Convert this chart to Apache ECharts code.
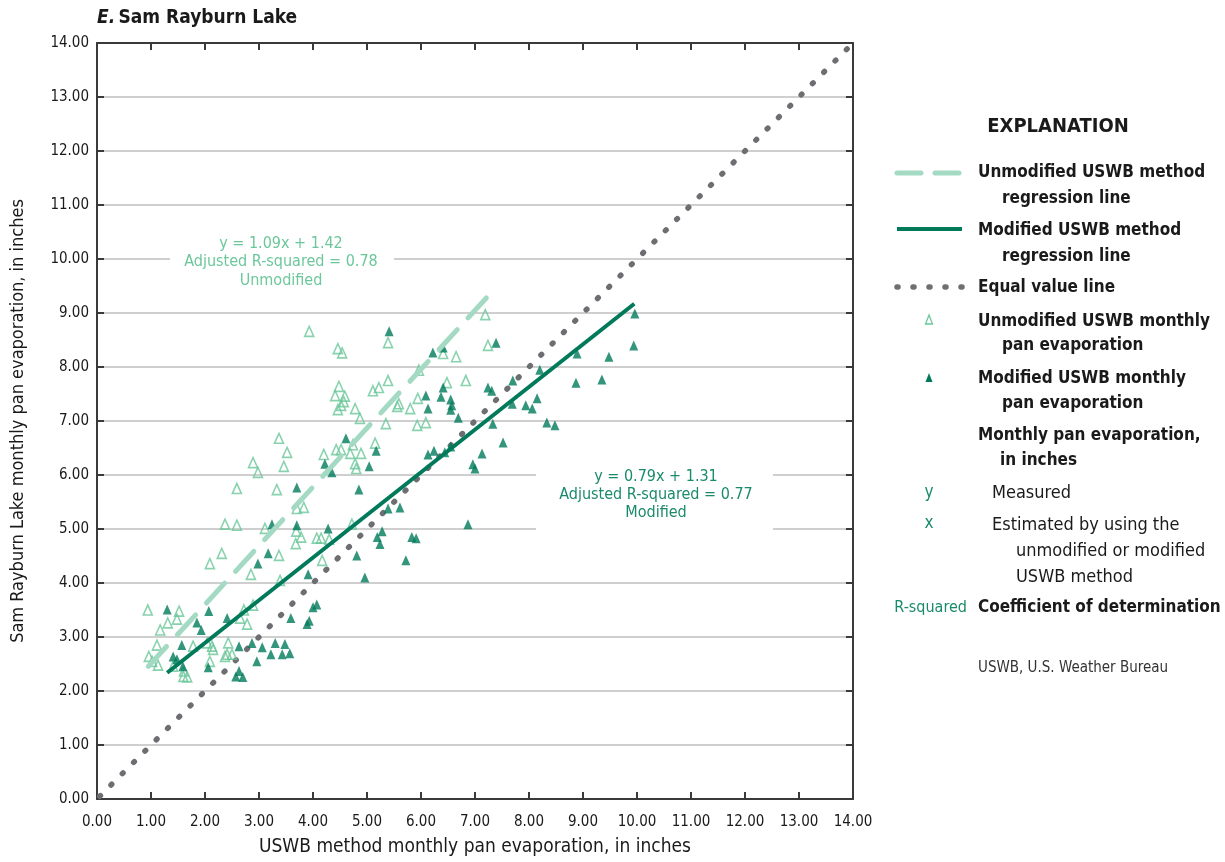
<!DOCTYPE html>
<html><head><meta charset="utf-8">
<script src="https://cdn.jsdelivr.net/npm/echarts@6/dist/echarts.min.js"></script>
<style>html,body{margin:0;padding:0;background:#fff}#c{width:1225px;height:862px}</style>
</head><body><div id="c"></div>
<script>
// Unmodified USWB method: [estimated x, measured y]
const unmodifiedPoints = [
 [2.09,4.36],[2.85,4.16],[3.39,4.05],[0.94,3.50],[1.52,3.48],[1.48,3.33],[1.31,3.26],[1.17,3.13],
 [2.89,3.59],[2.72,3.50],[2.65,3.35],[2.78,3.24],[1.11,2.85],[1.78,2.83],[2.04,2.89],[2.13,2.83],
 [2.15,2.77],[2.43,2.89],[2.41,2.68],[2.50,2.68],[2.37,2.64],[0.96,2.64],[1.02,2.55],[1.13,2.48],
 [1.41,2.46],[2.09,2.55],[1.60,2.27],[1.67,2.26],[1.61,2.37],
 [3.37,6.68],[3.52,6.42],[2.89,6.23],[2.98,6.05],[3.46,6.16],[2.59,5.75],[3.33,5.73],[3.70,5.38],
 [3.83,5.40],[2.37,5.09],[2.59,5.07],[3.11,5.01],[3.69,4.96],[3.78,4.85],[3.68,4.73],[2.31,4.55],[3.37,4.51],
 [3.93,8.66],[4.46,8.34],[4.54,8.26],[5.39,8.45],[4.48,7.64],[4.41,7.47],[4.59,7.46],[4.57,7.36],
 [4.52,7.29],[4.46,7.21],[4.78,7.23],[4.87,7.05],[5.11,7.56],[5.22,7.62],[5.39,7.75],[5.35,6.95],
 [5.59,7.32],[5.56,7.27],[5.80,7.23],[5.94,7.42],[5.96,7.94],[5.93,6.92],[4.74,6.56],[5.15,6.59],
 [4.20,6.38],[4.43,6.47],[4.52,6.47],[4.69,6.40],[4.89,6.40],[4.78,6.21],[4.80,6.12],[4.72,5.09],
 [4.07,4.83],[4.15,4.83],[4.30,4.81],[4.17,4.42],
 [7.19,8.97],[7.24,8.40],[6.41,8.25],[6.65,8.19],[6.48,7.71],[6.83,7.75],[6.09,6.97]
];
// Modified USWB method: [estimated x, measured y]
const modifiedPoints = [
 [2.98,4.36],[1.30,3.51],[2.07,3.48],[1.85,3.27],[1.93,3.13],[2.41,3.35],[3.59,3.35],[3.89,3.24],
 [1.57,2.85],[2.63,2.83],[2.87,2.89],[3.06,2.81],[3.30,2.89],[3.48,2.87],[3.22,2.68],[3.43,2.68],
 [3.57,2.70],[2.96,2.55],[1.41,2.64],[1.48,2.59],[1.59,2.46],[2.06,2.44],[2.63,2.37],[2.57,2.27],[2.70,2.26],
 [3.70,5.77],[3.24,5.09],[3.70,5.07],[3.17,4.55],
 [5.41,8.66],[4.61,6.68],[5.17,6.45],
 [4.22,6.21],[4.35,6.05],[5.04,6.16],[6.13,6.38],[6.24,6.45],[6.44,6.42],[6.55,6.53],[7.13,6.40],
 [7.52,6.60],[6.96,6.20],[7.00,6.12],[4.85,5.73],[5.39,5.38],[5.61,5.40],[6.87,5.09],[4.28,5.01],
 [5.28,4.96],[5.19,4.85],[5.24,4.72],[5.83,4.85],[5.91,4.83],[4.81,4.51],[5.72,4.42],[3.91,4.16],[4.96,4.10],
 [6.22,8.27],[6.41,8.36],[7.39,8.45],[6.41,7.62],[6.37,7.45],[6.09,7.47],[6.55,7.40],[6.57,7.29],
 [6.13,7.23],[6.55,7.21],[6.69,7.06],[7.24,7.62],[7.31,7.56],[7.70,7.75],[8.20,7.95],[8.15,7.42],
 [7.94,7.29],[8.06,7.23],[7.69,7.32],[7.33,6.95],[8.33,6.97],[8.48,6.92],[8.87,7.71],[8.89,8.25],
 [9.96,8.99],[9.94,8.40],[9.48,8.19],[9.35,7.77],
 [3.93,3.30],[4.00,3.55],[4.07,3.60]
];
// Regression lines: slope, intercept, x range
const unmodifiedFit = {slope:1.09, intercept:1.42, xFrom:0.95, xTo:7.25};
const modifiedFit = {slope:0.79, intercept:1.31, xFrom:1.30, xTo:9.95};
const equalLine = [[0.05,0.05],[14,14]];
const axisMin = 0, axisMax = 14, axisStep = 1;

const FONT = '"Liberation Sans Narrow","DejaVu Sans Condensed","Roboto Condensed",Roboto,sans-serif';
const C_UN = '#6cc79a', C_UN_LINE = '#a4dac3', C_MOD = '#007a5a', C_MOD_TXT = '#1b8a6b', C_EQ = '#6d6e71';

function fitLine(f){ return [[f.xFrom, f.slope*f.xFrom+f.intercept],[f.xTo, f.slope*f.xTo+f.intercept]]; }

const chart = echarts.init(document.getElementById('c'), null, {renderer:'canvas'});
const axisCommon = {
  min:axisMin, max:axisMax, interval:axisStep,
  axisLine:{show:true, onZero:false, lineStyle:{color:'#3a3a3a', width:2}},
  axisTick:{show:true, inside:true, length:7, lineStyle:{color:'#3a3a3a', width:2}},
  splitLine:{show:false}
};
const lx = 897, tx = 978;
const legendText = (x,y,t,bold,size,color)=>({type:'text', x:x, y:y, style:{text:t, font:(bold?'bold ':'')+(size||(bold?17:18))+'px '+FONT, fill:color||'#1a1a1a', textVerticalAlign:'middle'}});
const option = {
  animation:false,
  grid:{left:97, right:372, top:43, bottom:62},
  xAxis:[
    Object.assign({}, axisCommon, {type:'value', position:'bottom',
      name:'USWB method monthly pan evaporation, in inches', nameLocation:'middle', nameGap:39,
      nameTextStyle:{fontFamily:FONT, fontSize:19, color:'#1a1a1a'},
      axisLabel:{formatter:v=>v.toFixed(2), fontFamily:FONT, fontSize:15, color:'#1a1a1a', margin:16}}),
    Object.assign({}, axisCommon, {type:'value', position:'top', axisLabel:{show:false}})
  ],
  yAxis:[
    Object.assign({}, axisCommon, {type:'value', position:'left',
      name:'Sam Rayburn Lake monthly pan evaporation, in inches', nameLocation:'middle', nameGap:70,
      nameTextStyle:{fontFamily:FONT, fontSize:18, color:'#1a1a1a'},
      splitLine:{show:true, lineStyle:{color:'#bfbfbf', width:1.5}},
      axisLabel:{formatter:v=>v.toFixed(2), fontFamily:FONT, fontSize:15, color:'#1a1a1a', margin:8}}),
    Object.assign({}, axisCommon, {type:'value', position:'right', axisLabel:{show:false}})
  ],
  series:[
    {type:'line', data:equalLine, showSymbol:false, symbol:'none', z:3,
     lineStyle:{color:C_EQ, width:5.5, type:[1,15], cap:'round'}},
    {type:'scatter', data:unmodifiedPoints, symbol:'triangle', symbolSize:[9,10], z:4,
     itemStyle:{color:'rgba(255,255,255,0)', borderColor:C_UN, borderWidth:1.6}},
    {type:'scatter', data:modifiedPoints, symbol:'triangle', symbolSize:[9,10], z:5,
     itemStyle:{color:C_MOD}},
    {type:'line', data:fitLine(unmodifiedFit), showSymbol:false, symbol:'none', z:6,
     lineStyle:{color:C_UN_LINE, width:5, type:[27,16], cap:'round'}},
    {type:'line', data:fitLine(modifiedFit), showSymbol:false, symbol:'none', z:7,
     lineStyle:{color:C_MOD, width:4}}
  ],
  graphic:[
    {type:'text', x:97, y:18, style:{rich:{i:{font:'italic bold 19px '+FONT, fill:'#1a1a1a'}, b:{font:'bold 19px '+FONT, fill:'#1a1a1a'}}, text:'{i|E.} {b|Sam Rayburn Lake}', textVerticalAlign:'middle'}},
    // annotation boxes
    {type:'rect', z:2, shape:{x:170, y:237, width:224, height:52}, style:{fill:'#fff'}},
    {type:'text', z:3, x:281, y:262, style:{text:'y = 1.09x + 1.42\nAdjusted R-squared = 0.78\nUnmodified', font:'16px '+FONT, fill:C_UN, textAlign:'center', textVerticalAlign:'middle', lineHeight:18.5}},
    {type:'rect', z:2, shape:{x:536, y:467, width:237, height:68}, style:{fill:'#fff'}},
    {type:'text', z:3, x:656, y:495, style:{text:'y = 0.79x + 1.31\nAdjusted R-squared = 0.77\nModified', font:'16px '+FONT, fill:C_MOD_TXT, textAlign:'center', textVerticalAlign:'middle', lineHeight:18}},
    // explanation
    {type:'text', x:1058, y:127, style:{text:'EXPLANATION', font:'bold 20px '+FONT, fill:'#1a1a1a', textAlign:'center', textVerticalAlign:'middle'}},
    {type:'line', shape:{x1:lx, y1:173, x2:962, y2:173}, style:{stroke:C_UN_LINE, lineWidth:5, lineDash:[24,14], lineCap:'round'}},
    legendText(tx,173,'Unmodified USWB method',true),
    legendText(1002,199,'regression line',true),
    {type:'line', shape:{x1:lx, y1:229, x2:962, y2:229}, style:{stroke:C_MOD, lineWidth:4}},
    legendText(tx,231,'Modified USWB method',true),
    legendText(1002,257,'regression line',true),
    {type:'line', shape:{x1:lx, y1:287, x2:962, y2:287}, style:{stroke:C_EQ, lineWidth:5.5, lineDash:[1,15], lineCap:'round'}},
    legendText(tx,288,'Equal value line',true),
    {type:'polygon', shape:{points:[[929,315],[932.5,324],[925.5,324]]}, style:{fill:'none', stroke:C_UN, lineWidth:1.3}},
    legendText(tx,322,'Unmodified USWB monthly',true),
    legendText(1002,346,'pan evaporation',true),
    {type:'polygon', shape:{points:[[929,373],[932.5,382],[925.5,382]]}, style:{fill:C_MOD}},
    legendText(tx,379,'Modified USWB monthly',true),
    legendText(1002,404,'pan evaporation',true),
    legendText(tx,436,'Monthly pan evaporation,',true),
    legendText(1000,461,'in inches',true),
    {type:'text', x:929, y:493, style:{text:'y', font:'17px '+FONT, fill:C_MOD_TXT, textAlign:'center', textVerticalAlign:'middle'}},
    legendText(992,493,'Measured',false),
    {type:'text', x:929, y:524, style:{text:'x', font:'17px '+FONT, fill:C_MOD_TXT, textAlign:'center', textVerticalAlign:'middle'}},
    legendText(992,525,'Estimated by using the',false),
    legendText(1016,551,'unmodified or modified',false),
    legendText(1016,577,'USWB method',false),
    {type:'text', x:967, y:608, style:{text:'R-squared', font:'16px '+FONT, fill:C_MOD_TXT, textAlign:'right', textVerticalAlign:'middle'}},
    legendText(tx,608,'Coefficient of determination',true),
    legendText(tx,668,'USWB, U.S. Weather Bureau',false,15,'#333')
  ]
};
chart.setOption(option);
</script></body></html>
